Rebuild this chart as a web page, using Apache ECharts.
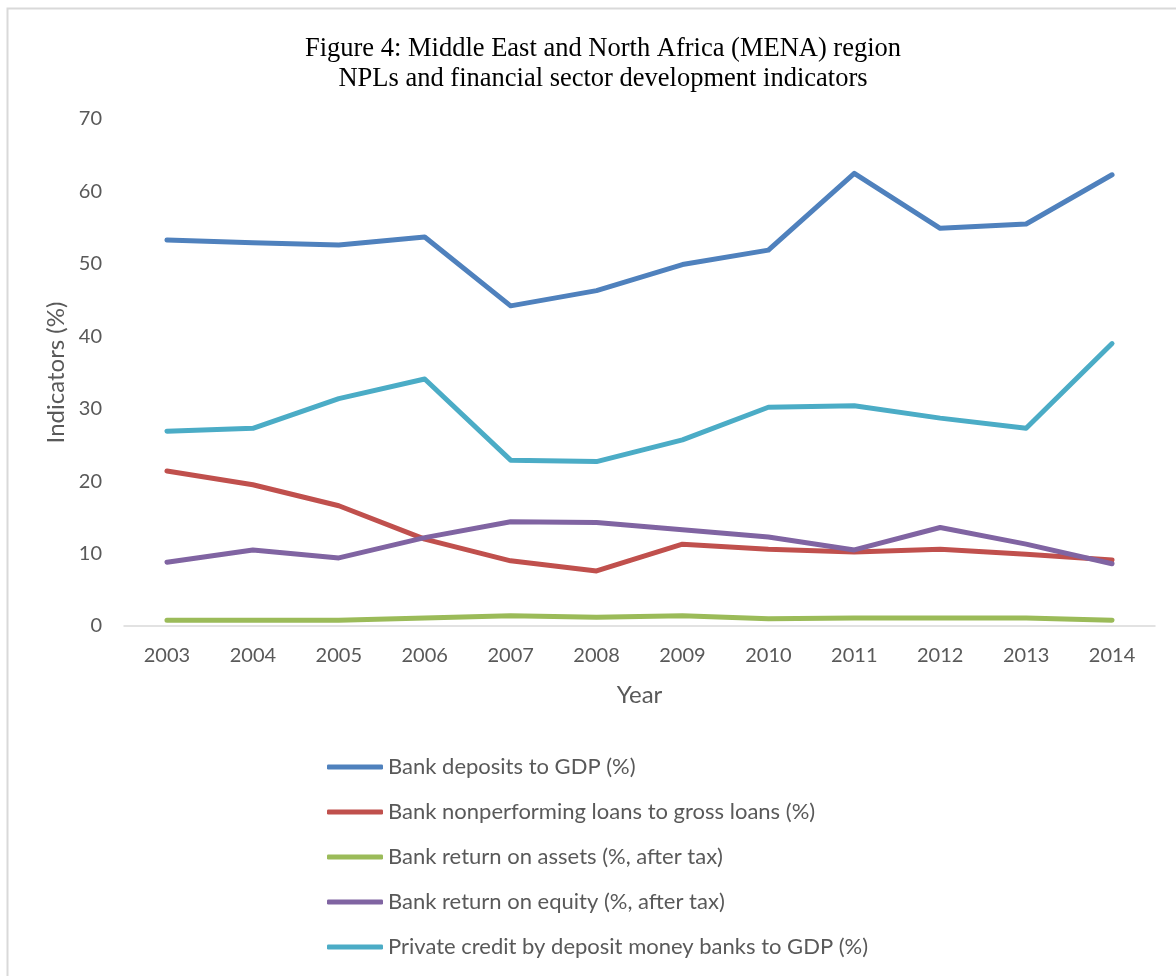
<!DOCTYPE html>
<html>
<head>
<meta charset="utf-8">
<script src="https://cdn.jsdelivr.net/npm/echarts@6/dist/echarts.min.js"></script>
<style>html,body{margin:0;padding:0;background:#fff}#c{width:1176px;height:976px}</style>
</head>
<body>
<div id="c"></div>
<script>
var years = ['2003','2004','2005','2006','2007','2008','2009','2010','2011','2012','2013','2014'];
var deposits = [53.3, 52.9, 52.6, 53.7, 44.2, 46.3, 49.9, 51.9, 62.5, 54.9, 55.5, 62.3];
var npl = [21.4, 19.5, 16.6, 12.0, 9.0, 7.6, 11.3, 10.6, 10.2, 10.6, 9.9, 9.1];
var roa = [0.8, 0.8, 0.8, 1.1, 1.4, 1.2, 1.4, 1.0, 1.1, 1.1, 1.1, 0.8];
var roe = [8.8, 10.5, 9.4, 12.2, 14.4, 14.3, 13.3, 12.3, 10.5, 13.6, 11.3, 8.6];
var privateCredit = [26.9, 27.3, 31.4, 34.1, 22.9, 22.7, 25.7, 30.2, 30.4, 28.7, 27.3, 39.0];
var seriesNames = [
  'Bank deposits to GDP (%)',
  'Bank nonperforming loans to gross loans (%)',
  'Bank return on assets (%, after tax)',
  'Bank return on equity (%, after tax)',
  'Private credit by deposit money banks to GDP (%)'
];
var seriesData = [deposits, npl, roa, roe, privateCredit];
var colors = ['#4F81BD', '#C0504D', '#9BBB59', '#8064A2', '#4BACC6'];

var chart = echarts.init(document.getElementById('c'));
var font = 'Lato';
chart.setOption({
  animation: false,
  backgroundColor: '#fff',
  graphic: [{
    type: 'rect', left: 5, top: 6, silent: true,
    shape: { width: 1200, height: 1000 },
    style: { fill: 'none', stroke: '#d9d9d9', lineWidth: 2 }
  }],
  title: {
    text: 'Figure 4: Middle East and North Africa (MENA) region\nNPLs and financial sector development indicators',
    left: 598, top: 29, textAlign: 'center',
    textStyle: { fontFamily: 'Liberation Serif', fontSize: 26.5, fontWeight: 'normal', color: '#000', lineHeight: 30 }
  },
  grid: { left: 124, right: 21, top: 119, bottom: 350 },
  legend: {
    orient: 'vertical', left: 322, top: 750,
    itemWidth: 56, itemHeight: 5, itemGap: 21, icon: 'roundRect',
    textStyle: { fontFamily: font, fontSize: 22, color: '#595959', lineHeight: 24 },
    data: seriesNames
  },
  xAxis: {
    type: 'category', data: years, boundaryGap: true,
    name: 'Year', nameLocation: 'middle', nameGap: 57,
    nameTextStyle: { fontFamily: font, fontSize: 24, color: '#595959', lineHeight: 24 },
    axisLine: { lineStyle: { color: '#d9d9d9', width: 1.5 } },
    axisTick: { show: false },
    axisLabel: { fontFamily: font, fontSize: 20, color: '#595959', margin: 20, lineHeight: 20 }
  },
  yAxis: {
    type: 'value', min: 0, max: 70, interval: 10,
    name: 'Indicators (%)', nameLocation: 'middle', nameGap: 54, nameRotate: 90,
    nameTextStyle: { fontFamily: font, fontSize: 24, color: '#595959', lineHeight: 24 },
    axisLine: { show: false }, axisTick: { show: false },
    splitLine: { show: false },
    axisLabel: { fontFamily: font, fontSize: 20, color: '#595959', margin: 22 }
  },
  series: seriesNames.map(function (n, i) {
    return {
      name: n, type: 'line', data: seriesData[i], symbol: 'none',
      lineStyle: { color: colors[i], width: 5, cap: 'round', join: 'round' },
      itemStyle: { color: colors[i] }
    };
  })
});
</script>
</body>
</html>
